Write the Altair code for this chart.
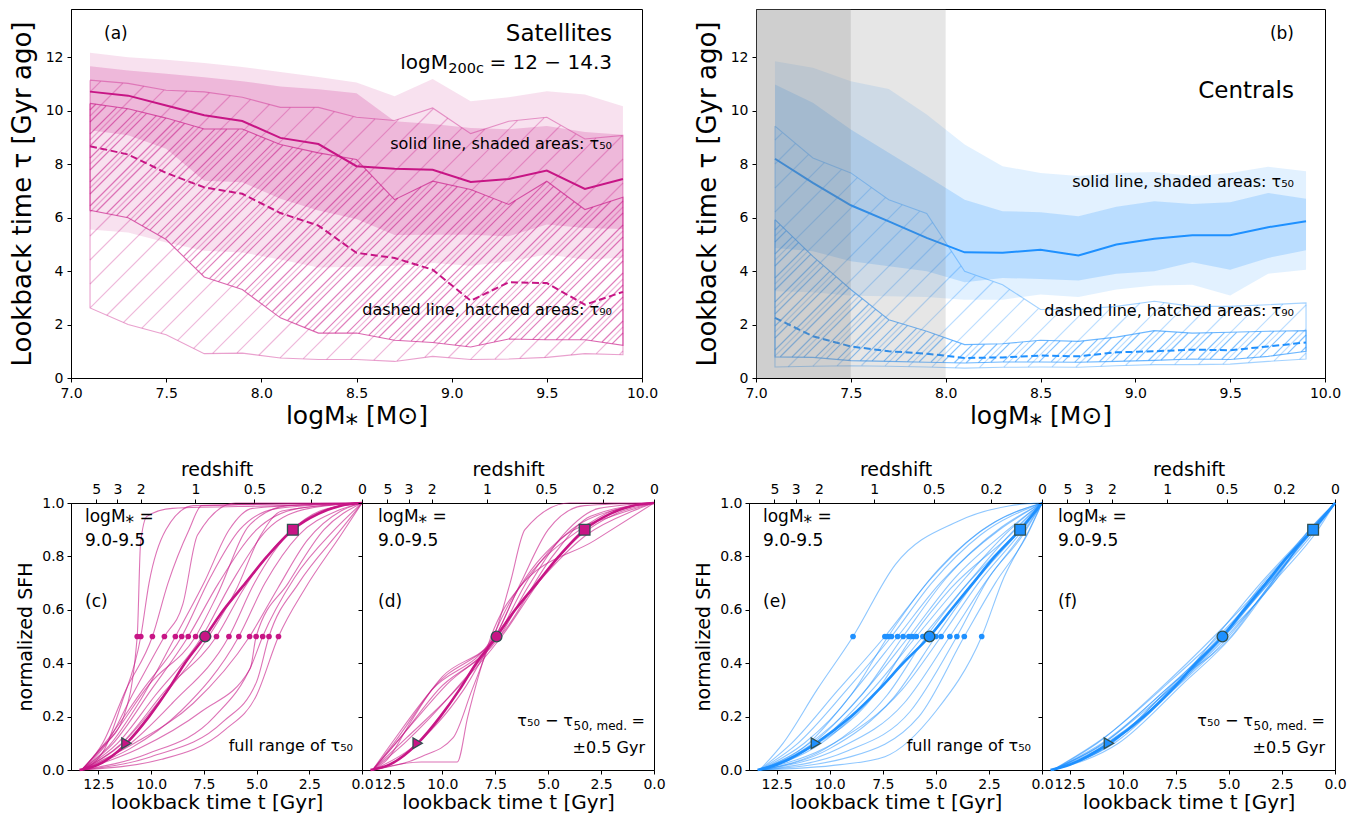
import altair as alt
import numpy as np
import pandas as pd

FONT = "DejaVu Sans"
MAG = "#c71585"
BLU = "#1e90ff"
EDGE = "#2f4f4f"

# ---------------- panels (a)/(b): stellar-mass bins ----------------
logm = [7.1, 7.3, 7.5, 7.7, 7.9, 8.1, 8.3, 8.5, 8.7, 8.9, 9.1, 9.3, 9.5, 9.7, 9.9]

sat_t50_med = [10.71, 10.56, 10.19, 9.83, 9.61, 8.98, 8.75, 7.92, 7.83, 7.79, 7.33, 7.44, 7.76, 7.07, 7.44]
sat_t50_in_hi = [11.66, 11.50, 11.38, 11.25, 11.10, 10.90, 10.80, 10.65, 9.60, 9.50, 9.35, 9.30, 9.42, 9.20, 9.10]
sat_t50_in_lo = [9.27, 9.08, 8.57, 7.38, 7.32, 6.70, 6.26, 5.95, 5.35, 5.36, 5.36, 5.30, 5.74, 5.61, 5.57]
sat_t50_out_hi = [12.16, 12.00, 11.90, 11.78, 11.63, 11.44, 11.26, 11.05, 10.54, 11.18, 10.35, 10.50, 10.72, 10.60, 10.16]
sat_t50_out_lo = [5.55, 5.44, 5.07, 4.76, 4.69, 4.43, 4.13, 4.16, 4.20, 4.30, 4.20, 4.36, 4.62, 4.43, 4.50]
sat_t90_med = [8.67, 8.36, 7.67, 7.13, 6.89, 6.17, 5.70, 4.68, 4.49, 4.05, 2.89, 3.58, 3.55, 2.74, 3.22]
sat_t90_in_hi = [10.27, 10.07, 9.72, 9.31, 9.31, 8.73, 8.42, 8.17, 6.67, 7.36, 7.05, 6.49, 7.36, 6.30, 6.76]
sat_t90_in_lo = [6.27, 5.99, 5.18, 3.78, 3.31, 2.25, 1.68, 1.68, 1.41, 1.33, 1.16, 1.46, 1.43, 1.43, 1.22]
sat_t90_out_hi = [11.14, 11.02, 10.76, 10.70, 10.50, 10.12, 10.12, 9.75, 9.63, 10.10, 9.14, 9.60, 9.75, 8.94, 9.07]
sat_t90_out_lo = [2.62, 2.00, 1.62, 0.91, 0.93, 0.75, 0.69, 0.69, 0.62, 0.81, 0.69, 0.71, 0.77, 0.91, 0.87]

cen_t50_med = [8.20, 7.30, 6.46, 5.86, 5.24, 4.70, 4.68, 4.80, 4.58, 4.99, 5.21, 5.34, 5.34, 5.64, 5.86]
cen_t50_in_hi = [10.98, 10.29, 9.29, 8.42, 7.55, 6.67, 6.24, 6.20, 6.05, 6.40, 6.61, 6.51, 6.57, 6.92, 6.70]
cen_t50_in_lo = [4.86, 4.74, 4.37, 4.18, 3.99, 3.58, 3.74, 3.70, 3.65, 3.90, 3.99, 4.33, 4.05, 4.49, 4.78]
cen_t50_out_hi = [11.85, 11.60, 11.10, 10.81, 9.85, 8.73, 7.92, 7.67, 7.55, 7.67, 7.70, 7.55, 7.67, 7.90, 7.73]
cen_t50_out_lo = [3.24, 3.21, 3.08, 3.06, 3.03, 2.93, 2.93, 3.12, 3.03, 3.31, 3.46, 3.49, 3.09, 3.90, 4.05]
cen_t90_med = [2.25, 1.56, 1.18, 1.00, 0.91, 0.75, 0.77, 0.84, 0.81, 0.96, 1.00, 1.06, 1.04, 1.18, 1.33]
cen_t90_in_hi = [5.92, 4.55, 3.31, 2.18, 1.75, 1.25, 1.28, 1.41, 1.37, 1.53, 1.77, 1.68, 1.71, 1.75, 1.77]
cen_t90_in_lo = [0.79, 0.77, 0.65, 0.62, 0.59, 0.56, 0.60, 0.60, 0.59, 0.62, 0.66, 0.71, 0.69, 0.81, 1.00]
cen_t90_out_hi = [9.42, 8.23, 7.67, 6.67, 6.15, 3.99, 3.49, 2.56, 2.56, 2.68, 2.87, 2.68, 2.68, 2.74, 2.81]
cen_t90_out_lo = [0.41, 0.44, 0.46, 0.44, 0.41, 0.37, 0.40, 0.41, 0.40, 0.46, 0.50, 0.50, 0.52, 0.62, 0.71]

gray_lo = [7.0, 7.5]
gray_hi = [7.5, 8.0]
gray_alpha = [0.38, 0.2]

# ---------------- panels (c)-(f): normalized SFHs ----------------
z_ticks_t = [12.6, 11.6, 10.5, 7.9, 5.1, 2.4, 0.0]
z_labels = ["5", "3", "2", "1", "0.5", "0.2", "0"]
t_ticks = [0.0, 2.5, 5.0, 7.5, 10.0, 12.5]
sfh_ticks = [0.0, 0.2, 0.4, 0.6, 0.8, 1.0]
marker_v = [0.1, 0.5, 0.9]
marker_shape = ["triangle-right", "circle", "square"]

sat_median_curve = [(13.4, 0.0), (12.5, 0.02), (11.17, 0.1), (10.1, 0.2), (9.2, 0.3), (8.4, 0.4),
                    (7.44, 0.5), (6.56, 0.6), (5.53, 0.7), (4.5, 0.8), (3.28, 0.9), (2.05, 0.96),
                    (1.0, 0.99), (0.0, 1.0)]
sat_marker_t = [11.17, 7.44, 3.28]

sat_full = [
    [(13.3, 0), (12.4, 0.08), (11.3, 0.2), (10.66, 0.5), (10.5, 0.85), (10.2, 0.95), (9.0, 0.98), (4.0, 0.99), (0, 1)],
    [(13.3, 0), (12.2, 0.08), (11.4, 0.25), (10.49, 0.5), (10.1, 0.7), (9.3, 0.9), (8.0, 0.99), (0, 1)],
    [(13.3, 0), (12.3, 0.1), (11.2, 0.3), (9.94, 0.5), (9.2, 0.7), (8.2, 0.9), (7.6, 0.99), (0, 1)],
    [(13.3, 0), (12.1, 0.1), (10.9, 0.28), (9.37, 0.5), (8.5, 0.62), (7.8, 0.88), (6.0, 1.0), (0, 1)],
    [(13.3, 0), (12.0, 0.09), (10.6, 0.25), (8.85, 0.5), (7.5, 0.7), (6.3, 0.9), (5.2, 0.98), (0, 1)],
    [(13.3, 0), (12.2, 0.1), (10.4, 0.3), (8.55, 0.5), (7.2, 0.72), (5.8, 0.9), (4.0, 0.98), (0, 1)],
    [(13.3, 0), (11.8, 0.1), (10.0, 0.3), (8.24, 0.5), (6.8, 0.7), (5.0, 0.9), (3.0, 0.98), (0, 1)],
    [(13.3, 0), (11.9, 0.12), (10.1, 0.32), (7.89, 0.5), (6.9, 0.65), (5.3, 0.92), (3.5, 0.99), (0, 1)],
    [(13.3, 0), (11.6, 0.1), (9.8, 0.28), (7.58, 0.5), (6.2, 0.7), (4.5, 0.9), (2.5, 0.98), (0, 1)],
    [(13.3, 0), (11.5, 0.09), (9.5, 0.27), (7.27, 0.5), (6.0, 0.67), (4.8, 0.88), (3.8, 0.97), (0, 1)],
    [(13.3, 0), (11.4, 0.1), (9.3, 0.3), (6.9, 0.5), (5.6, 0.68), (3.6, 0.88), (2.0, 0.97), (0, 1)],
    [(13.3, 0), (11.3, 0.08), (9.0, 0.25), (6.31, 0.5), (5.1, 0.7), (3.3, 0.9), (1.5, 0.98), (0, 1)],
    [(13.3, 0), (11.0, 0.08), (8.6, 0.22), (5.84, 0.5), (4.6, 0.7), (3.0, 0.88), (1.2, 0.97), (0, 1)],
    [(13.3, 0), (10.8, 0.1), (8.0, 0.25), (5.33, 0.5), (4.0, 0.68), (2.6, 0.86), (1.0, 0.97), (0, 1)],
    [(13.3, 0), (10.6, 0.08), (7.6, 0.22), (5.3, 0.38), (5.02, 0.5), (3.5, 0.7), (1.8, 0.9), (0, 1)],
    [(13.3, 0), (10.2, 0.06), (7.0, 0.2), (5.2, 0.4), (4.71, 0.5), (3.2, 0.72), (1.3, 0.9), (0, 1)],
    [(13.3, 0), (10.0, 0.05), (6.6, 0.18), (5.0, 0.33), (4.41, 0.5), (3.0, 0.7), (1.0, 0.9), (0, 1)],
    [(13.3, 0), (9.5, 0.04), (6.5, 0.15), (5.0, 0.28), (3.96, 0.5), (2.7, 0.68), (1.0, 0.88), (0, 1)],
]

sat_close = [
    [(13.3, 0), (12.4, 0.1), (10.5, 0.3), (7.6, 0.5), (6.8, 0.7), (6.1, 0.9), (4.0, 1.0), (0, 1)],
    [(13.3, 0), (12.2, 0.1), (10.2, 0.3), (7.5, 0.5), (6.3, 0.7), (5.0, 0.9), (3.3, 0.99), (0, 1)],
    [(13.3, 0), (12.0, 0.12), (9.8, 0.32), (7.3, 0.5), (6.0, 0.68), (4.3, 0.88), (2.6, 0.98), (0, 1)],
    [(13.3, 0), (11.8, 0.1), (9.4, 0.3), (7.4, 0.5), (5.9, 0.72), (3.9, 0.9), (1.5, 0.98), (0, 1)],
    [(13.3, 0), (11.5, 0.08), (9.0, 0.3), (7.5, 0.5), (5.5, 0.7), (3.2, 0.88), (1.0, 0.97), (0, 1)],
    [(13.3, 0), (11.0, 0.05), (9.5, 0.12), (8.6, 0.3), (7.6, 0.5), (6.4, 0.68), (2.8, 0.86), (0, 1)],
    [(13.3, 0), (11.0, 0.03), (9.3, 0.03), (8.8, 0.2), (8.3, 0.35), (7.7, 0.5), (6.0, 0.72), (3.5, 0.9), (2.0, 0.97), (0, 1)],
    [(13.3, 0), (12.3, 0.1), (10.0, 0.35), (7.5, 0.5), (6.6, 0.65), (4.5, 0.86), (2.0, 0.95), (0, 1)],
    [(13.3, 0), (11.7, 0.12), (9.6, 0.28), (7.2, 0.5), (5.2, 0.73), (3.6, 0.87), (1.8, 0.96), (0, 1)],
    [(13.3, 0), (12.6, 0.04), (11.5, 0.18), (10.5, 0.3), (8.0, 0.45), (7.3, 0.5), (4.8, 0.8), (3.0, 0.95), (0, 1)],
]

cen_median_curve = [(13.4, 0.0), (12.5, 0.02), (10.65, 0.1), (9.0, 0.2), (7.7, 0.3), (6.54, 0.4),
                    (5.3, 0.5), (4.28, 0.6), (3.25, 0.7), (2.22, 0.8), (1.03, 0.9), (0.0, 1.0)]
cen_marker_t = [10.65, 5.3, 1.03]

cen_full = [
    [(13.3, 0), (12.2, 0.1), (10.6, 0.3), (8.9, 0.5), (6.9, 0.77), (4.0, 0.93), (1.5, 0.99), (0, 1)],
    [(13.3, 0), (11.8, 0.1), (9.6, 0.3), (7.4, 0.5), (5.2, 0.72), (2.8, 0.9), (0, 1)],
    [(13.3, 0), (11.2, 0.1), (9.0, 0.28), (7.25, 0.5), (4.9, 0.75), (2.2, 0.93), (0, 1)],
    [(13.3, 0), (11.5, 0.1), (9.2, 0.3), (7.09, 0.5), (5.2, 0.7), (2.9, 0.88), (0, 1)],
    [(13.3, 0), (11.0, 0.1), (8.8, 0.3), (6.8, 0.5), (4.8, 0.7), (2.0, 0.9), (0, 1)],
    [(13.3, 0), (11.3, 0.08), (8.5, 0.28), (6.54, 0.5), (4.5, 0.72), (1.9, 0.91), (0, 1)],
    [(13.3, 0), (10.8, 0.1), (8.3, 0.3), (6.27, 0.5), (4.1, 0.72), (1.6, 0.9), (0, 1)],
    [(13.3, 0), (11.0, 0.08), (8.0, 0.27), (6.1, 0.5), (4.3, 0.68), (1.5, 0.88), (0, 1)],
    [(13.3, 0), (10.6, 0.1), (8.0, 0.3), (5.92, 0.5), (3.6, 0.72), (1.5, 0.9), (0, 1)],
    [(13.3, 0), (10.4, 0.1), (7.7, 0.3), (5.61, 0.5), (3.5, 0.7), (1.3, 0.9), (0, 1)],
    [(13.3, 0), (10.2, 0.08), (7.3, 0.28), (5.45, 0.5), (3.7, 0.68), (1.2, 0.89), (0, 1)],
    [(13.3, 0), (10.0, 0.08), (7.0, 0.27), (5.0, 0.5), (3.2, 0.7), (1.0, 0.9), (0, 1)],
    [(13.3, 0), (9.8, 0.1), (6.6, 0.3), (4.75, 0.5), (3.0, 0.7), (0.9, 0.9), (0, 1)],
    [(13.3, 0), (9.6, 0.08), (6.5, 0.25), (4.34, 0.5), (2.7, 0.7), (0.8, 0.9), (0, 1)],
    [(13.3, 0), (9.2, 0.07), (6.2, 0.22), (4.01, 0.5), (2.5, 0.72), (0.9, 0.88), (0, 1)],
    [(13.3, 0), (9.0, 0.05), (5.8, 0.2), (3.66, 0.5), (2.2, 0.7), (0.7, 0.88), (0, 1)],
    [(13.3, 0), (9.5, 0.02), (7.4, 0.05), (5.0, 0.22), (2.84, 0.5), (1.8, 0.72), (0.6, 0.9), (0, 1)],
]

cen_close = [
    [(13.3, 0), (11.2, 0.1), (8.3, 0.3), (5.7, 0.5), (3.3, 0.7), (1.2, 0.9), (0, 1)],
    [(13.3, 0), (10.9, 0.12), (7.8, 0.33), (5.5, 0.5), (3.4, 0.68), (1.0, 0.9), (0, 1)],
    [(13.3, 0), (10.5, 0.1), (7.9, 0.3), (5.4, 0.5), (3.0, 0.71), (0.9, 0.91), (0, 1)],
    [(13.3, 0), (10.7, 0.09), (8.1, 0.28), (5.2, 0.5), (3.2, 0.7), (1.3, 0.88), (0, 1)],
    [(13.3, 0), (10.4, 0.1), (7.6, 0.3), (5.0, 0.5), (3.0, 0.7), (1.1, 0.9), (0, 1)],
    [(13.3, 0), (10.9, 0.1), (7.7, 0.32), (4.9, 0.5), (3.3, 0.67), (0.9, 0.92), (0, 1)],
    [(13.3, 0), (10.3, 0.12), (7.4, 0.32), (5.1, 0.5), (2.7, 0.72), (0.8, 0.9), (0, 1)],
    [(13.3, 0), (11.0, 0.08), (8.0, 0.27), (5.6, 0.5), (3.5, 0.7), (1.4, 0.88), (0, 1)],
    [(13.3, 0), (10.6, 0.11), (7.5, 0.31), (5.3, 0.5), (3.1, 0.7), (1.0, 0.89), (0, 1)],
    [(13.3, 0), (10.8, 0.11), (7.3, 0.35), (5.0, 0.52), (2.9, 0.7), (1.2, 0.9), (0, 1)],
    [(13.3, 0), (11.3, 0.08), (8.4, 0.26), (5.5, 0.48), (3.4, 0.7), (1.1, 0.9), (0, 1)],
    [(13.3, 0), (10.2, 0.1), (7.2, 0.32), (4.85, 0.5), (2.6, 0.74), (0.9, 0.92), (0, 1)],
]

# ---------------- layout constants ----------------
TOP_W_A, TOP_W_B, TOP_H = 571, 569, 369
BOT_W_C, BOT_W_D, BOT_W_E, BOT_W_F, BOT_H = 291, 292, 293, 293, 267
XDOM = [7.0, 10.0]
YDOM = [0.0, 13.8]

AX = dict(labelFont=FONT, titleFont=FONT, labelColor="black", titleColor="black",
          domainColor="black", tickColor="black", tickSize=4,
          labelFlush=False, titleFontWeight="normal", grid=False, labelFontSize=14)


def hatch_df(lo, hi, w, h, step, phase):
    """Diagonal hatch strokes clipped to the band between lo and hi (two points per stroke)."""
    xs = np.array(logm)
    X = np.linspace(xs[0], xs[-1], 1400)
    L = np.interp(X, xs, np.array(lo))
    U = np.interp(X, xs, np.array(hi))
    sx = w / (XDOM[1] - XDOM[0])
    sy = h / (YDOM[1] - YDOM[0])
    px = (X - XDOM[0]) * sx
    rows = []
    k = 0
    for c in np.arange(-h - step + phase, w + step, step):
        yv = YDOM[0] + (px - c) / sy
        inside = (yv >= L) & (yv <= U)
        if not inside.any():
            continue
        idx = np.flatnonzero(inside)
        br = np.flatnonzero(np.diff(idx) > 1)
        starts = np.r_[idx[0], idx[br + 1]]
        ends = np.r_[idx[br], idx[-1]]
        for s, e in zip(starts, ends):
            if e > s:
                rows.append({"x": X[s], "y": yv[s], "id": k, "o": 0})
                rows.append({"x": X[e], "y": yv[e], "id": k, "o": 1})
                k += 1
    return pd.DataFrame(rows)


def outline_df(lo, hi):
    xs = list(logm) + list(logm[::-1]) + [logm[0]]
    ys = list(hi) + list(lo[::-1]) + [hi[0]]
    return pd.DataFrame({"x": xs, "y": ys, "o": list(range(len(xs)))})


def text_layer(txt, x, y, size, align="left", dy=0, color="black"):
    return alt.Chart(pd.DataFrame({"t": [txt]})).mark_text(
        font=FONT, fontSize=size, align=align, baseline="middle", color=color, dy=dy
    ).encode(x=alt.value(x), y=alt.value(y), text="t:N")


def top_panel(d, color, w, texts, gray=False):
    xs = alt.Scale(domain=XDOM, nice=False, zero=False)
    ys = alt.Scale(domain=YDOM, nice=False)
    xax = alt.Axis(values=[7.0, 7.5, 8.0, 8.5, 9.0, 9.5, 10.0], format=".1f", labelPadding=4,
                   title="logM\u204e [M\u2299]", titleFontSize=25, titlePadding=3, **AX)
    yax = alt.Axis(values=[0, 2, 4, 6, 8, 10, 12], format="d", labelPadding=4,
                   title="Lookback time \u03c4 [Gyr ago]", titleFontSize=26, titlePadding=10, **AX)

    def X(f):
        return alt.X(f, type="quantitative", scale=xs, axis=xax)

    def Y(f):
        return alt.Y(f, type="quantitative", scale=ys, axis=yax)

    band = lambda lo, hi: pd.DataFrame({"x": logm, "lo": lo, "hi": hi})
    layers = [
        alt.Chart(band(d["t50_out_lo"], d["t50_out_hi"])).mark_area(color=color, opacity=0.13)
        .encode(x=X("x"), y=Y("lo"), y2="hi"),
        alt.Chart(band(d["t50_in_lo"], d["t50_in_hi"])).mark_area(color=color, opacity=0.2)
        .encode(x=X("x"), y=Y("lo"), y2="hi"),
    ]
    for key, step, phase, op in (("t90_out", 24, 6, 0.3), ("t90_in", 12, 0, 0.55)):
        lo, hi = d[key + "_lo"], d[key + "_hi"]
        layers.append(
            alt.Chart(hatch_df(lo, hi, w, TOP_H, step, phase))
            .mark_line(color=color, strokeOpacity=op, strokeWidth=1.2)
            .encode(x=X("x"), y=Y("y"), detail="id:N", order="o:Q"))
        layers.append(
            alt.Chart(outline_df(lo, hi)).mark_line(color=color, strokeOpacity=op + 0.1, strokeWidth=1.1)
            .encode(x=X("x"), y=Y("y"), order="o:Q"))
    layers.append(alt.Chart(pd.DataFrame({"x": logm, "y": d["t50_med"]}))
                  .mark_line(color=color, strokeWidth=2).encode(x=X("x"), y=Y("y")))
    layers.append(alt.Chart(pd.DataFrame({"x": logm, "y": d["t90_med"]}))
                  .mark_line(color=color, strokeWidth=2, strokeDash=[7, 3.5]).encode(x=X("x"), y=Y("y")))
    if gray:
        layers.append(alt.Chart(pd.DataFrame({"x": gray_lo, "x2": gray_hi, "a": gray_alpha}))
                      .mark_rect(color="#808080")
                      .encode(x=X("x"), x2="x2", y=alt.value(0), y2=alt.value(TOP_H),
                              opacity=alt.Opacity("a:Q", scale=None)))
    layers += texts
    return alt.layer(*layers).properties(width=w, height=TOP_H)


def curves_df(curves):
    rows = []
    for i, c in enumerate(curves):
        for j, (t, v) in enumerate(c):
            rows.append({"t": t, "v": v, "id": i, "o": j})
    return pd.DataFrame(rows)


def sfh_panel(curves, median, mk_t, color, alpha, w, show_y, texts, dots):
    xs = alt.Scale(domain=[13.8, 0.0], nice=False, zero=False)
    ys = alt.Scale(domain=[0.0, 1.0], nice=False)
    if show_y:
        yax = alt.Axis(values=sfh_ticks, format=".1f", title="normalized SFH", titleFontSize=19,
                       labelPadding=3, titlePadding=6, **AX)
    else:
        yax = alt.Axis(values=sfh_ticks, labels=False, title="", **AX)
    bax = alt.Axis(values=t_ticks, format=".1f", title="lookback time t [Gyr]", titleFontSize=20,
                   labelPadding=3, titlePadding=1, **AX)
    expr = " : ".join(f"datum.value == {t} ? '{l}'" for t, l in zip(z_ticks_t, z_labels)) + " : ''"
    tax = alt.Axis(orient="top", values=z_ticks_t, labelExpr=expr, title="redshift", titleFontSize=19,
                   labelPadding=3, titlePadding=3, **AX)
    Y = alt.Y("v:Q", scale=ys, axis=yax)
    layers = [
        alt.Chart(curves_df(curves)).mark_line(color=color, strokeWidth=1.1, opacity=alpha, interpolate="monotone")
        .encode(x=alt.X("t:Q", scale=xs, axis=bax), y=Y, detail="id:N", order="o:Q"),
        alt.Chart(curves_df([median])).mark_line(color=color, strokeWidth=2.6, interpolate="monotone")
        .encode(x=alt.X("t:Q", scale=xs, axis=None), y=Y, order="o:Q"),
    ]
    if dots:
        dt = [t for c in curves for (t, v) in c if v == 0.5]
        layers.append(alt.Chart(pd.DataFrame({"t": dt, "v": [0.5] * len(dt)}))
                      .mark_circle(color=color, size=32, opacity=1)
                      .encode(x=alt.X("t:Q", scale=xs, axis=None), y=Y))
    layers.append(alt.Chart(pd.DataFrame({"t": mk_t, "v": marker_v, "s": marker_shape}))
                  .mark_point(filled=True, fill=color, stroke=EDGE, strokeWidth=1.3, size=115, opacity=1)
                  .encode(x=alt.X("t:Q", scale=xs, axis=None), y=Y, shape=alt.Shape("s:N", scale=None)))
    layers.append(alt.Chart(pd.DataFrame({"t": z_ticks_t})).mark_point(opacity=0)
                  .encode(x=alt.X("t:Q", scale=xs, axis=tax), y=alt.value(0)))
    layers += texts
    return alt.layer(*layers).resolve_axis(x="independent").properties(width=w, height=BOT_H)


sat = dict(t50_med=sat_t50_med, t50_in_lo=sat_t50_in_lo, t50_in_hi=sat_t50_in_hi,
           t50_out_lo=sat_t50_out_lo, t50_out_hi=sat_t50_out_hi, t90_med=sat_t90_med,
           t90_in_lo=sat_t90_in_lo, t90_in_hi=sat_t90_in_hi, t90_out_lo=sat_t90_out_lo, t90_out_hi=sat_t90_out_hi)
cen = dict(t50_med=cen_t50_med, t50_in_lo=cen_t50_in_lo, t50_in_hi=cen_t50_in_hi,
           t50_out_lo=cen_t50_out_lo, t50_out_hi=cen_t50_out_hi, t90_med=cen_t90_med,
           t90_in_lo=cen_t90_in_lo, t90_in_hi=cen_t90_in_hi, t90_out_lo=cen_t90_out_lo, t90_out_hi=cen_t90_out_hi)

a_texts = [
    text_layer("(a)", 33, 25, 17),
    text_layer("Satellites", 541, 25, 23, align="right"),
    text_layer("= 12 \u2212 14.3", 541, 54, 20, align="right"),
    text_layer("200c", 413, 54, 14.5, align="right", dy=6),
    text_layer("logM", 377, 54, 20, align="right"),
    text_layer("solid line, shaded areas: \u03c4\u2085\u2080", 541, 135, 16, align="right"),
    text_layer("dashed line, hatched areas: \u03c4\u2089\u2080", 541, 301, 16, align="right"),
]
b_texts = [
    text_layer("(b)", 538, 25, 17, align="right"),
    text_layer("Centrals", 538, 82, 23, align="right"),
    text_layer("solid line, shaded areas: \u03c4\u2085\u2080", 538, 173, 16, align="right"),
    text_layer("dashed line, hatched areas: \u03c4\u2089\u2080", 538, 302, 16, align="right"),
]


def left_texts(letter):
    return [text_layer("logM\u204e =", 14, 14, 17), text_layer("9.0-9.5", 14, 38, 17),
            text_layer(letter, 14, 99, 17),
            text_layer("full range of \u03c4\u2085\u2080", 282, 243, 16, align="right")]


def right_texts(letter):
    return [text_layer("logM\u204e =", 16, 14, 17), text_layer("9.0-9.5", 16, 38, 17),
            text_layer(letter, 16, 99, 17),
            text_layer(" =", 283, 218, 16, align="right"),
            text_layer("50, med.", 265, 218, 12, align="right", dy=5),
            text_layer("\u03c4\u2085\u2080 \u2212 \u03c4", 211, 218, 16, align="right"),
            text_layer("\u00b10.5 Gyr", 283, 245, 16, align="right")]


pa = top_panel(sat, MAG, TOP_W_A, a_texts)
pb = top_panel(cen, BLU, TOP_W_B, b_texts, gray=True)
pc = sfh_panel(sat_full, sat_median_curve, sat_marker_t, MAG, 0.6, BOT_W_C, True, left_texts("(c)"), True)
pd_ = sfh_panel(sat_close, sat_median_curve, sat_marker_t, MAG, 0.6, BOT_W_D, False, right_texts("(d)"), False)
pe = sfh_panel(cen_full, cen_median_curve, cen_marker_t, BLU, 0.5, BOT_W_E, True, left_texts("(e)"), True)
pf = sfh_panel(cen_close, cen_median_curve, cen_marker_t, BLU, 0.5, BOT_W_F, False, right_texts("(f)"), False)

spacer = alt.Chart(pd.DataFrame({"a": [0]})).mark_point(opacity=0).encode(
    x=alt.value(0), y=alt.value(0)).properties(width=95, height=BOT_H, view=alt.ViewBackground(strokeOpacity=0))

top = alt.hconcat(pa, pb, spacing=114, bounds="flush")
bottom = alt.hconcat(pc, pd_, spacer, pe, pf, spacing=0, bounds="flush")

chart = alt.vconcat(top, bottom, spacing=30).properties(
    padding={"left": 0, "top": 0, "right": 5, "bottom": 0}
).configure(font=FONT).configure_view(stroke="black", strokeWidth=1)

chart.save("out.html", embed_options={"renderer": "svg", "actions": False})
